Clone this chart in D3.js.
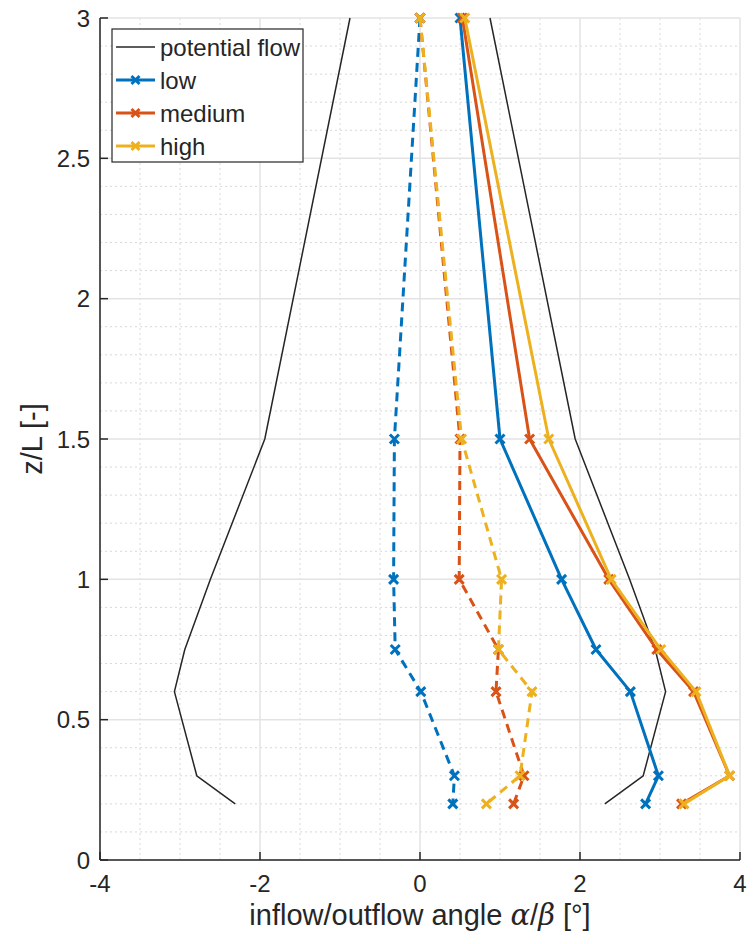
<!DOCTYPE html>
<html>
<head>
<meta charset="utf-8">
<script src="https://cdn.jsdelivr.net/npm/d3@7"></script>
<style>
  html, body { margin: 0; padding: 0; background: #fff; }
  svg { display: block; font-family: "Liberation Sans", Arial, Helvetica, sans-serif; }
</style>
</head>
<body>
<svg id="chart" width="755" height="944"></svg>
<script>
// Heights z/L at which the angles were evaluated
const heights = [3, 1.5, 1, 0.75, 0.6, 0.3, 0.2];

// Potential-flow reference (outflow branch is the mirror of the inflow branch)
const potentialInflow  = [-0.875, -1.94, -2.62, -2.94, -3.07, -2.79, -2.31];
const potentialOutflow = [0.875, 1.94, 2.62, 2.94, 3.07, 2.79, 2.31];

// Measured angles: solid = alpha, dashed = beta
const lowAlpha    = [0.50, 1.00, 1.77, 2.20, 2.63, 2.98, 2.82];
const lowBeta     = [0.00, -0.32, -0.33, -0.31, 0.01, 0.43, 0.41];
const mediumAlpha = [0.53, 1.37, 2.36, 2.96, 3.42, 3.87, 3.27];
const mediumBeta  = [0.00, 0.50, 0.49, 0.98, 0.95, 1.30, 1.17];
const highAlpha   = [0.56, 1.61, 2.39, 3.01, 3.45, 3.87, 3.30];
const highBeta    = [0.00, 0.52, 1.02, 0.98, 1.40, 1.25, 0.83];

const seriesNames = ["potential flow", "low", "medium", "high"];
const xTicks = [-4, -2, 0, 2, 4];
const yTicks = [0, 0.5, 1, 1.5, 2, 2.5, 3];

const colors = { low: "#0072BD", medium: "#D95319", high: "#EDB120", potential: "#262626" };

const svg = d3.select("#chart");
const margin = { left: 100, right: 15, top: 18, bottom: 84 };
const W = 755, H = 944;
const x = d3.scaleLinear().domain([-4, 4]).range([margin.left, W - margin.right]);
const y = d3.scaleLinear().domain([0, 3]).range([H - margin.bottom, margin.top]);

const axisColor = "#262626";
const plot = svg.append("g");

// Minor grid (dotted)
const xMinor = d3.range(-4, 4.001, 0.5).filter(v => Math.abs(v / 2 - Math.round(v / 2)) > 1e-6);
const yMinor = d3.range(0, 3.001, 0.1).map(v => +v.toFixed(2)).filter(v => Math.abs(v / 0.5 - Math.round(v / 0.5)) > 1e-6);
plot.append("g").selectAll("line").data(xMinor).join("line")
  .attr("x1", d => x(d)).attr("x2", d => x(d))
  .attr("y1", y(0)).attr("y2", y(3))
  .attr("stroke", "#d8d8d8").attr("stroke-width", 1).attr("stroke-dasharray", "2,3");
plot.append("g").selectAll("line").data(yMinor).join("line")
  .attr("y1", d => y(d)).attr("y2", d => y(d))
  .attr("x1", x(-4)).attr("x2", x(4))
  .attr("stroke", "#d8d8d8").attr("stroke-width", 1).attr("stroke-dasharray", "2,3");

// Major grid (solid)
plot.append("g").selectAll("line").data(xTicks).join("line")
  .attr("x1", d => x(d)).attr("x2", d => x(d))
  .attr("y1", y(0)).attr("y2", y(3))
  .attr("stroke", "#e3e3e3").attr("stroke-width", 1.5);
plot.append("g").selectAll("line").data(yTicks).join("line")
  .attr("y1", d => y(d)).attr("y2", d => y(d))
  .attr("x1", x(-4)).attr("x2", x(4))
  .attr("stroke", "#e3e3e3").attr("stroke-width", 1.5);

const line = d3.line().x(d => x(d[0])).y(d => y(d[1]));
const pairs = vals => vals.map((v, i) => [v, heights[i]]);

function drawCurve(vals, color, width, dashed, markers) {
  const pts = pairs(vals);
  plot.append("path").datum(pts)
    .attr("d", line).attr("fill", "none")
    .attr("stroke", color).attr("stroke-width", width)
    .attr("stroke-linejoin", "round")
    .attr("stroke-dasharray", dashed ? "9,6" : null);
  if (markers) {
    const s = 4.5;
    const g = plot.append("g");
    g.selectAll("path").data(pts).join("path")
      .attr("d", d => {
        const cx = x(d[0]), cy = y(d[1]);
        return `M${cx - s},${cy - s}L${cx + s},${cy + s}M${cx - s},${cy + s}L${cx + s},${cy - s}`;
      })
      .attr("stroke", color).attr("stroke-width", 3).attr("fill", "none");
  }
}

drawCurve(potentialInflow, colors.potential, 1.5, false, false);
drawCurve(potentialOutflow, colors.potential, 1.5, false, false);
drawCurve(lowAlpha, colors.low, 3, false, true);
drawCurve(lowBeta, colors.low, 3, true, true);
drawCurve(mediumAlpha, colors.medium, 3, false, true);
drawCurve(mediumBeta, colors.medium, 3, true, true);
drawCurve(highAlpha, colors.high, 3, false, true);
drawCurve(highBeta, colors.high, 3, true, true);

// Axes: left and bottom lines with inward ticks
const axes = svg.append("g");
axes.append("line").attr("x1", x(-4)).attr("x2", x(4)).attr("y1", y(0)).attr("y2", y(0))
  .attr("stroke", axisColor).attr("stroke-width", 1.5);
axes.append("line").attr("x1", x(-4)).attr("x2", x(-4)).attr("y1", y(0)).attr("y2", y(3))
  .attr("stroke", axisColor).attr("stroke-width", 1.5);
axes.append("g").selectAll("line").data(xTicks).join("line")
  .attr("x1", d => x(d)).attr("x2", d => x(d)).attr("y1", y(0)).attr("y2", y(0) - 8)
  .attr("stroke", axisColor).attr("stroke-width", 1.5);
axes.append("g").selectAll("line").data(yTicks).join("line")
  .attr("y1", d => y(d)).attr("y2", d => y(d)).attr("x1", x(-4)).attr("x2", x(-4) + 8)
  .attr("stroke", axisColor).attr("stroke-width", 1.5);

axes.append("g").selectAll("text").data(xTicks).join("text")
  .attr("x", d => x(d)).attr("y", y(0) + 32)
  .attr("text-anchor", "middle").attr("font-size", 24).attr("fill", axisColor)
  .text(d => d < 0 ? "-" + Math.abs(d) : String(d));
axes.append("g").selectAll("text").data(yTicks).join("text")
  .attr("x", x(-4) - 10).attr("y", d => y(d)).attr("dy", "0.36em")
  .attr("text-anchor", "end").attr("font-size", 24).attr("fill", axisColor)
  .text(d => String(d));

// Axis labels
const xl = axes.append("text")
  .attr("x", x(0)).attr("y", y(0) + 65)
  .attr("text-anchor", "middle").attr("font-size", 29).attr("fill", axisColor);
xl.append("tspan").text("inflow/outflow angle ");
xl.append("tspan").attr("font-family", "'DejaVu Serif', serif").attr("font-style", "italic").text("α");
xl.append("tspan").text("/");
xl.append("tspan").attr("font-family", "'DejaVu Serif', serif").attr("font-style", "italic").text("β");
xl.append("tspan").text(" [°]");

axes.append("text")
  .attr("transform", `translate(42,${y(1.5)}) rotate(-90)`)
  .attr("text-anchor", "middle").attr("font-size", 29).attr("fill", axisColor)
  .text("z/L [-]");

// Legend
const lg = svg.append("g").attr("transform", "translate(112,29)");
lg.append("rect").attr("width", 191).attr("height", 133)
  .attr("fill", "#fff").attr("stroke", axisColor).attr("stroke-width", 1.2);
const legendColors = [colors.potential, colors.low, colors.medium, colors.high];
seriesNames.forEach((name, i) => {
  const cy = 18 + i * 33;
  lg.append("line").attr("x1", 4).attr("x2", 43).attr("y1", cy).attr("y2", cy)
    .attr("stroke", legendColors[i]).attr("stroke-width", i === 0 ? 1.5 : 3);
  if (i > 0) {
    const s = 4, cx = 23.5;
    lg.append("path")
      .attr("d", `M${cx - s},${cy - s}L${cx + s},${cy + s}M${cx - s},${cy + s}L${cx + s},${cy - s}`)
      .attr("stroke", legendColors[i]).attr("stroke-width", 3);
  }
  lg.append("text").attr("x", 48).attr("y", cy).attr("dy", "0.36em")
    .attr("font-size", 24).attr("fill", axisColor).text(name);
});
</script>
</body>
</html>
